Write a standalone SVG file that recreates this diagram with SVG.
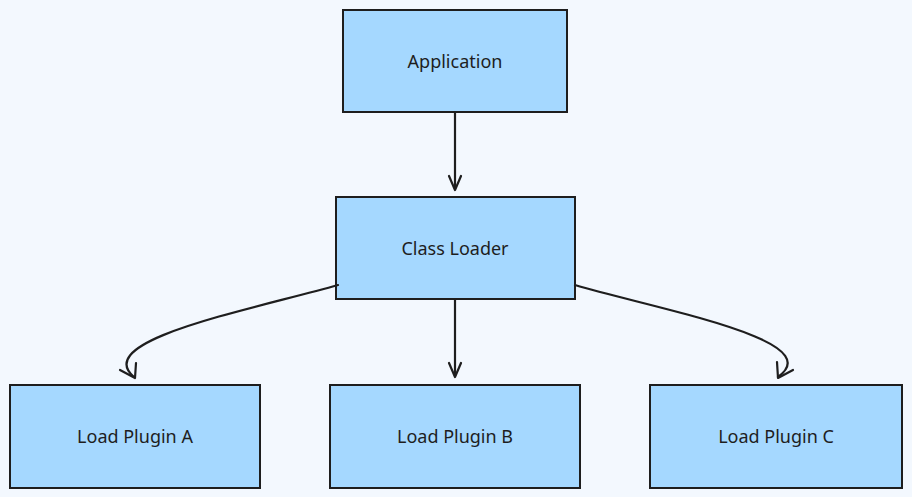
<svg xmlns="http://www.w3.org/2000/svg" width="912" height="497" viewBox="0 0 912 497">
<style>
.n rect{fill:#a5d8ff;stroke:#1e1e1e;stroke-width:2}
.n text{font-family:"Noto Sans",Inter,sans-serif;font-size:18px;fill:#1e1e1e;text-anchor:middle;dominant-baseline:central}
.c path{fill:none;stroke:#1e1e1e;stroke-width:2.2;stroke-linecap:round;stroke-linejoin:round}
</style>
<rect width="912" height="497" fill="#f3f8fe"/>
<g id="app" class="n"><rect x="343" y="10" width="224" height="102"/><text x="455" y="61">Application</text></g>
<g id="loader" class="n"><rect x="336" y="197" width="239" height="102"/><text x="455" y="248">Class Loader</text></g>
<g id="pa" class="n"><rect x="10" y="385" width="250" height="103"/><text x="135" y="436">Load Plugin A</text></g>
<g id="pb" class="n"><rect x="330" y="385" width="250" height="103"/><text x="455" y="436">Load Plugin B</text></g>
<g id="pc" class="n"><rect x="650" y="385" width="252" height="103"/><text x="776" y="436">Load Plugin C</text></g>
<g id="connectors" class="c">
<path d="M455 113 L455 189"/><path d="M449 176 L455 190 L461 176"/>
<path d="M338 285 C250 310 90 340 134 377"/><path d="M120 370 L135 378 L136 363"/>
<path d="M455 300 L455 376"/><path d="M449 363 L455 377 L461 363"/>
<path d="M575 285 C660 310 830 340 778 377"/><path d="M777 362 L778 378 L793 370"/>
</g>
</svg>
